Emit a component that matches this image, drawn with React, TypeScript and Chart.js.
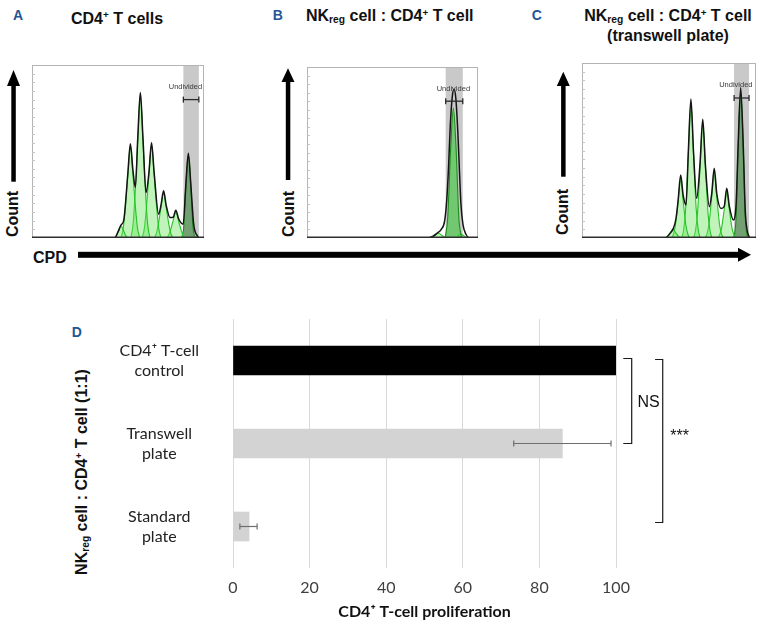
import React, { useEffect, useRef } from 'react';
import { Chart, registerables } from 'chart.js';

Chart.register(...registerables);

type Pt = [number, number];

// ---------------- Panels A–C: CPD dilution histograms (x: CPD, y: count, both 0–100 of frame) ----------------
const histYTicks = [5, 10, 15, 20, 25, 30, 35, 40, 45, 50, 55, 60, 65, 70, 75, 80, 85, 90, 95];

// A: CD4+ T cells
const histA_total: Pt[] = [
  [0, 0], [48, 0], [50, 3.5], [51.8, 7.6], [53.3, 10], [55.7, 37], [57.2, 54.5], [58.7, 39], [60.1, 29.2],
  [61.5, 58], [63, 84.1], [64.5, 58], [66.3, 26.3], [68, 38], [69.5, 55.1], [71, 38], [73.6, 13.8],
  [75, 19], [76.5, 27.3], [78, 19], [80.3, 11.8], [82.1, 12], [83.6, 16.1], [85.3, 11], [87.9, 8],
  [89.4, 30], [90.9, 49], [92.4, 30], [94, 8], [96.1, 1.2], [97.5, 0], [100, 0],
];
const histA_peaks: Pt[][] = [
  [[47, 0], [48.5, 0.7], [49.5, 2.2], [50.6, 4.8], [51.8, 7], [53, 4.8], [54.1, 2.2], [55.1, 0.7], [56.6, 0]],
  [[51.7, 0], [53, 5.3], [54.2, 17], [55.7, 36], [57.2, 53], [58.7, 36], [60.2, 17], [61.4, 5.3], [62.7, 0]],
  [[57.5, 0], [58.8, 8.3], [60, 26.5], [61.5, 56.5], [63, 83], [64.5, 56.5], [66, 26.5], [67.2, 8.3], [68.5, 0]],
  [[64, 0], [65.3, 5.4], [66.5, 17.3], [68, 36.7], [69.5, 54], [71, 36.7], [72.5, 17.3], [73.7, 5.4], [75, 0]],
  [[71, 0], [72.3, 2.6], [73.5, 8.3], [75, 17.7], [76.5, 26], [78, 17.7], [79.5, 8.3], [80.7, 2.6], [82, 0]],
  [[78.1, 0], [79.4, 1.5], [80.6, 4.8], [82.1, 10.2], [83.6, 15], [85.1, 10.2], [86.6, 4.8], [87.8, 1.5], [89.1, 0]],
  [[86.4, 0], [87.4, 1.5], [88.3, 7.2], [89.4, 29], [90.9, 48], [92.4, 29], [93.5, 7.2], [94.4, 1.5], [95.6, 0]],
];
const histA_gate: Pt = [88, 97];
const histA_undivided = 6;

// B: NKreg : CD4+ T cell
const histB_total: Pt[] = [
  [0, 0], [70.9, 0], [73.5, 1], [76, 2.8], [78.5, 5], [80.5, 10], [81.7, 22], [82.8, 42], [83.8, 66],
  [85, 83], [86, 87], [87, 82], [88.2, 62], [89.2, 38], [90, 20], [91.2, 8], [92.8, 2.5], [95.3, 0], [100, 0],
];
const histB_peaks: Pt[][] = [
  [[73, 0], [75, 1.5], [77, 2.8], [79, 1.5], [81, 0]],
  [[80.8, 0], [82.3, 12], [84, 52], [85.6, 76], [87.2, 52], [88.8, 12], [90.4, 0]],
  [[87.5, 0], [89.5, 2.5], [91.5, 1.5], [93, 0]],
];
const histB_gate: Pt = [81.1, 91.1];
const histB_undivided = 1;

// C: NKreg : CD4+ T cell (transwell plate)
const histC_total: Pt[] = [
  [0, 0], [47.7, 0], [50.5, 2.5], [52.5, 5.5], [54, 11], [55.2, 21], [56.7, 36], [58.2, 24], [59.8, 18.9],
  [61.1, 49], [62.6, 79.4], [64.1, 49], [65.9, 22.7], [67.8, 42], [69.4, 67.8], [70.9, 42], [73.2, 17.9],
  [74.5, 25], [76, 39.8], [77.5, 25], [79.9, 16.9], [81.7, 18], [83.2, 28.4], [84.7, 18], [87, 10.3],
  [88.6, 20], [89.7, 52], [91.2, 85.9], [92.7, 52], [93.8, 16], [94.8, 5], [96, 0.8], [97.5, 0], [100, 0],
];
const histC_peaks: Pt[][] = [
  [[47, 0], [48.1, 0.3], [49.3, 1.1], [50.8, 3.1], [52.3, 5], [53.8, 3.1], [55.3, 1.1], [56.5, 0.3], [57.6, 0]],
  [[51.4, 0], [52.5, 2], [53.7, 7.3], [55.2, 20.5], [56.7, 33], [58.2, 20.5], [59.7, 7.3], [60.9, 2], [62, 0]],
  [[57.3, 0], [58.4, 4.6], [59.6, 17], [61.1, 47.7], [62.6, 77], [64.1, 47.7], [65.6, 17], [66.8, 4.6], [67.9, 0]],
  [[64.1, 0], [65.2, 4], [66.4, 14.5], [67.9, 41], [69.4, 66], [70.9, 41], [72.4, 14.5], [73.6, 4], [74.7, 0]],
  [[70.7, 0], [71.8, 2.2], [73, 8.1], [74.5, 23], [76, 37], [77.5, 23], [79, 8.1], [80.2, 2.2], [81.3, 0]],
  [[77.9, 0], [79, 1.6], [80.2, 5.7], [81.7, 16], [83.2, 26], [84.7, 16], [86.2, 5.7], [87.4, 1.6], [88.5, 0]],
  [[86.7, 0], [87.7, 2.5], [88.6, 12.6], [89.7, 50], [91.2, 84], [92.7, 50], [93.8, 12.6], [94.7, 2.5], [95.9, 0]],
];
const histC_gate: Pt = [87.4, 96.0];
const histC_undivided = 6;

// ---------------- Panel D: proliferation bar chart ----------------
const dCategories = [['CD4⁺ T-cell', 'control'], ['Transwell', 'plate'], ['Standard', 'plate']];
const dValues = [100, 86, 4.2];
const dErrLow: (number | null)[] = [null, 73.3, 1.8];
const dErrHigh: (number | null)[] = [null, 98.7, 6.3];
const dXTicks = [0, 20, 40, 60, 80, 100];
const dSigFrom = [0, 0];
const dSigTo = [1, 2];
const dSigLabels = ['NS', '***'];

// styles (positions in scale units, offsets in px)
const sigStyle = [
  { tickX: 101.9, lineX: 104.1, textX: 108.5, y0Off: -2, y1Off: 0, textDy: 2 },
  { tickX: 110.2, lineX: 112.2, textX: 116.6, y0Off: -1, y1Off: -4, textDy: -4 },
];

const SANS = '"Liberation Sans", Arial, sans-serif';

function line(ctx: CanvasRenderingContext2D, x0: number, y0: number, x1: number, y1: number) {
  ctx.beginPath();
  ctx.moveTo(x0, y0);
  ctx.lineTo(x1, y1);
  ctx.stroke();
}

const gatePlugin = {
  id: 'gate',
  beforeDatasetsDraw(chart: any, _a: any, opts: any) {
    const { ctx, chartArea: a, scales } = chart;
    const x0 = scales.x.getPixelForValue(opts.range[0]);
    const x1 = scales.x.getPixelForValue(opts.range[1]);
    ctx.save();
    ctx.fillStyle = '#c9c9c9';
    ctx.fillRect(x0, a.top, x1 - x0, a.bottom - a.top);
    ctx.restore();
  },
  afterDatasetsDraw(chart: any, _a: any, opts: any) {
    const { ctx, chartArea: a, scales } = chart;
    const { x, y } = scales;
    ctx.save();
    ctx.strokeStyle = '#b4b4b4';
    ctx.lineWidth = 1;
    ctx.strokeRect(a.left + 0.5, a.top + 0.5, a.right - a.left - 1, a.bottom - a.top - 1);
    ctx.strokeStyle = '#c4c4c4';
    for (const v of histYTicks) {
      const py = Math.round(y.getPixelForValue(v)) + 0.5;
      line(ctx, a.left, py, a.left + 3, py);
    }
    ctx.strokeStyle = '#2e2e2e';
    ctx.lineWidth = 1.5;
    line(ctx, a.left, a.bottom - 0.75, a.right, a.bottom - 0.75);
    const x0 = x.getPixelForValue(opts.range[0]);
    const x1 = x.getPixelForValue(opts.range[1]);
    const by = y.getPixelForValue(80);
    ctx.strokeStyle = '#2a2a2a';
    ctx.lineWidth = 1.3;
    line(ctx, x0, by, x1, by);
    line(ctx, x0, by - 3, x0, by + 3);
    line(ctx, x1, by - 3, x1, by + 3);
    ctx.fillStyle = '#3a3a3a';
    ctx.font = '7.5px ' + SANS;
    ctx.textAlign = 'center';
    ctx.textBaseline = 'middle';
    ctx.fillText('Undivided', x.getPixelForValue(opts.labelX), y.getPixelForValue(87.3));
    ctx.restore();
  },
};

function Histogram(props: {
  left: number; top: number; width: number; height: number;
  total: Pt[]; peaks: Pt[][]; undivided: number; gate: Pt; labelX: number; undividedFill: string;
}) {
  const ref = useRef<HTMLCanvasElement>(null);
  useEffect(() => {
    const datasets: any[] = [
      {
        data: props.total.map(([x, y]) => ({ x, y })),
        borderColor: '#141414', borderWidth: 1.5, fill: false, pointRadius: 0,
        cubicInterpolationMode: 'monotone',
      },
      ...props.peaks.map((p, i) => ({
        data: p.map(([x, y]) => ({ x, y })),
        borderColor: i === props.undivided ? '#1d8a1d' : '#26c326',
        backgroundColor: i === props.undivided ? props.undividedFill : 'rgba(105,228,92,0.42)',
        borderWidth: 1.1, fill: 'origin', pointRadius: 0, cubicInterpolationMode: 'monotone',
      })),
    ];
    const chart = new Chart(ref.current as HTMLCanvasElement, {
      type: 'line',
      data: { datasets },
      options: {
        animation: false, responsive: false, events: [],
        layout: { padding: 2 },
        plugins: {
          legend: { display: false }, tooltip: { enabled: false },
          gate: { range: props.gate, labelX: props.labelX },
        } as any,
        scales: {
          x: { type: 'linear', min: 0, max: 100, display: false },
          y: { type: 'linear', min: 0, max: 100, display: false },
        },
      },
      plugins: [gatePlugin as any],
    });
    return () => chart.destroy();
  }, []);
  return (
    <canvas
      ref={ref}
      width={props.width + 4}
      height={props.height + 4}
      style={{ position: 'absolute', left: props.left - 2, top: props.top - 2 }}
    />
  );
}

const barExtras = {
  id: 'barExtras',
  afterDatasetsDraw(chart: any) {
    const { ctx, scales } = chart;
    const { x, y } = scales;
    ctx.save();
    ctx.strokeStyle = '#6e6e6e';
    ctx.lineWidth = 1.2;
    dValues.forEach((_v, i) => {
      const lo = dErrLow[i];
      const hi = dErrHigh[i];
      if (lo == null || hi == null) return;
      const py = y.getPixelForValue(i);
      const a = x.getPixelForValue(lo);
      const b = x.getPixelForValue(hi);
      line(ctx, a, py, b, py);
      line(ctx, a, py - 3, a, py + 3);
      line(ctx, b, py - 3, b, py + 3);
    });
    dSigLabels.forEach((lab, k) => {
      const st = sigStyle[k];
      const y0 = y.getPixelForValue(dSigFrom[k]) + st.y0Off;
      const y1 = y.getPixelForValue(dSigTo[k]) + st.y1Off;
      const xt = x.getPixelForValue(st.tickX);
      const xl = x.getPixelForValue(st.lineX);
      ctx.strokeStyle = '#1a1a1a';
      ctx.lineWidth = 1.2;
      ctx.beginPath();
      ctx.moveTo(xt, y0);
      ctx.lineTo(xl, y0);
      ctx.lineTo(xl, y1);
      ctx.lineTo(xt, y1);
      ctx.stroke();
      ctx.fillStyle = '#111';
      ctx.font = '16px ' + SANS;
      ctx.textAlign = 'center';
      ctx.textBaseline = 'middle';
      ctx.fillText(lab, x.getPixelForValue(st.textX), (y0 + y1) / 2 + st.textDy);
    });
    ctx.restore();
  },
};

function BarChartD() {
  const ref = useRef<HTMLCanvasElement>(null);
  useEffect(() => {
    const chart = new Chart(ref.current as HTMLCanvasElement, {
      type: 'bar',
      data: {
        labels: dCategories as any,
        datasets: [{
          data: dValues,
          backgroundColor: ['#000000', '#d3d3d3', '#d3d3d3'],
          borderWidth: 0,
          barThickness: 29,
        }],
      },
      options: {
        indexAxis: 'y', animation: false, responsive: false, events: [],
        layout: { padding: { top: 9, right: 150, left: 0, bottom: 0 } },
        plugins: { legend: { display: false }, tooltip: { enabled: false } },
        scales: {
          x: {
            type: 'linear', min: 0, max: 100,
            afterBuildTicks: (s: any) => { s.ticks = dXTicks.map((v) => ({ value: v })); },
            grid: { color: '#d9d9d9', lineWidth: 1, drawTicks: false },
            border: { display: false },
            ticks: { color: '#404040', font: { family: 'Lato', size: 16 }, padding: 10 },
            title: {
              display: true, text: 'CD4⁺ T-cell proliferation', color: '#111',
              font: { family: 'Lato', size: 16, weight: 'bold' }, padding: { top: 0, bottom: 6 },
            },
            afterFit: (s: any) => { s.height = 59; s.paddingLeft = 0; s.paddingRight = 0; },
          },
          y: {
            grid: { display: false, drawTicks: false },
            border: { display: false },
            ticks: {
              crossAlign: 'center', padding: 34, color: '#222',
              font: { family: 'Lato', size: 16, lineHeight: 1.25 },
            },
            afterFit: (s: any) => { s.width = 133; s.paddingTop = 0; s.paddingBottom = 0; },
          },
        },
      } as any,
      plugins: [barExtras as any],
    });
    return () => chart.destroy();
  }, []);
  return (
    <canvas ref={ref} width={666} height={317} style={{ position: 'absolute', left: 100, top: 310 }} />
  );
}

function Txt(props: { left: number; top: number; size: number; color?: string; bold?: boolean; children: any; style?: any }) {
  return (
    <div
      style={{
        position: 'absolute', left: props.left, top: props.top, fontSize: props.size, lineHeight: 1,
        fontWeight: props.bold ? 'bold' : 'normal', color: props.color || '#111', whiteSpace: 'nowrap',
        fontFamily: SANS, ...(props.style || {}),
      }}
    >
      {props.children}
    </div>
  );
}

function Rot(props: { cx: number; cy: number; size: number; children: any }) {
  return (
    <div style={{ position: 'absolute', left: props.cx, top: props.cy, width: 0, height: 0 }}>
      <div
        style={{
          position: 'absolute', left: 0, top: 0, transform: 'translate(-50%, -50%) rotate(-90deg)',
          transformOrigin: 'center', fontSize: props.size, lineHeight: 1, fontWeight: 'bold',
          whiteSpace: 'nowrap', fontFamily: SANS, color: '#111',
        }}
      >
        {props.children}
      </div>
    </div>
  );
}

const Sup = () => <span style={{ fontSize: '0.62em', position: 'relative', top: '-0.55em' }}>+</span>;
const Sub = (p: { t: string }) => <span style={{ fontSize: '0.64em', position: 'relative', top: '0.22em' }}>{p.t}</span>;

const LETTER = '#1f5796';

export default function App() {
  return (
    <div style={{ position: 'absolute', left: 0, top: 0, width: 766, height: 627, background: '#fff', overflow: 'hidden' }}>
      <Txt left={13} top={8.2} size={14} bold color={LETTER}>A</Txt>
      <Txt left={272.7} top={8.2} size={14} bold color={LETTER}>B</Txt>
      <Txt left={531.7} top={8.2} size={14} bold color={LETTER}>C</Txt>
      <Txt left={71.7} top={324.8} size={14} bold color={LETTER}>D</Txt>

      <Txt left={71} top={10.5} size={16} bold>CD4<Sup /> T cells</Txt>
      <Txt left={306} top={8.2} size={16} bold>NK<Sub t="reg" /> cell : CD4<Sup /> T cell</Txt>
      <Txt left={568} top={7} size={16} bold style={{ width: 200, textAlign: 'center', lineHeight: '18.3px' }}>
        NK<Sub t="reg" /> cell : CD4<Sup /> T cell<br />(transwell plate)
      </Txt>

      <svg width={766} height={627} style={{ position: 'absolute', left: 0, top: 0 }}>
        <rect x={11.3} y={84} width={4.5} height={97.7} fill="#000" />
        <polygon points="7,86 20,86 13.5,70" fill="#000" />
        <rect x={285.8} y={80} width={4.5} height={100} fill="#000" />
        <polygon points="281.5,82 294.5,82 288,68.3" fill="#000" />
        <rect x={561.1} y={84} width={4.5} height={92.7} fill="#000" />
        <polygon points="556.8,86 569.8,86 563.3,71.7" fill="#000" />
        <rect x={78} y={251.8} width={662} height={6} fill="#000" />
        <polygon points="738,247.8 751,254.8 738,261.8" fill="#000" />
      </svg>

      <Rot cx={13.3} cy={214} size={16}>Count</Rot>
      <Rot cx={288.8} cy={214.2} size={16}>Count</Rot>
      <Rot cx={562.8} cy={211.7} size={16}>Count</Rot>
      <Txt left={33} top={249.8} size={16} bold>CPD</Txt>

      <Histogram left={32} top={65} width={172} height={173} total={histA_total} peaks={histA_peaks}
        undivided={histA_undivided} gate={histA_gate} labelX={89.2} undividedFill="rgba(30,120,30,0.5)" />
      <Histogram left={307} top={67} width={171} height={171} total={histB_total} peaks={histB_peaks}
        undivided={histB_undivided} gate={histB_gate} labelX={85.6} undividedFill="rgba(60,200,60,0.62)" />
      <Histogram left={582} top={63} width={174} height={175} total={histC_total} peaks={histC_peaks}
        undivided={histC_undivided} gate={histC_gate} labelX={88.4} undividedFill="rgba(30,120,30,0.5)" />

      <BarChartD />
      <Rot cx={82} cy={471.5} size={16}>NK<Sub t="reg" /> cell : CD4<Sup /> T cell (1:1)</Rot>
    </div>
  );
}
